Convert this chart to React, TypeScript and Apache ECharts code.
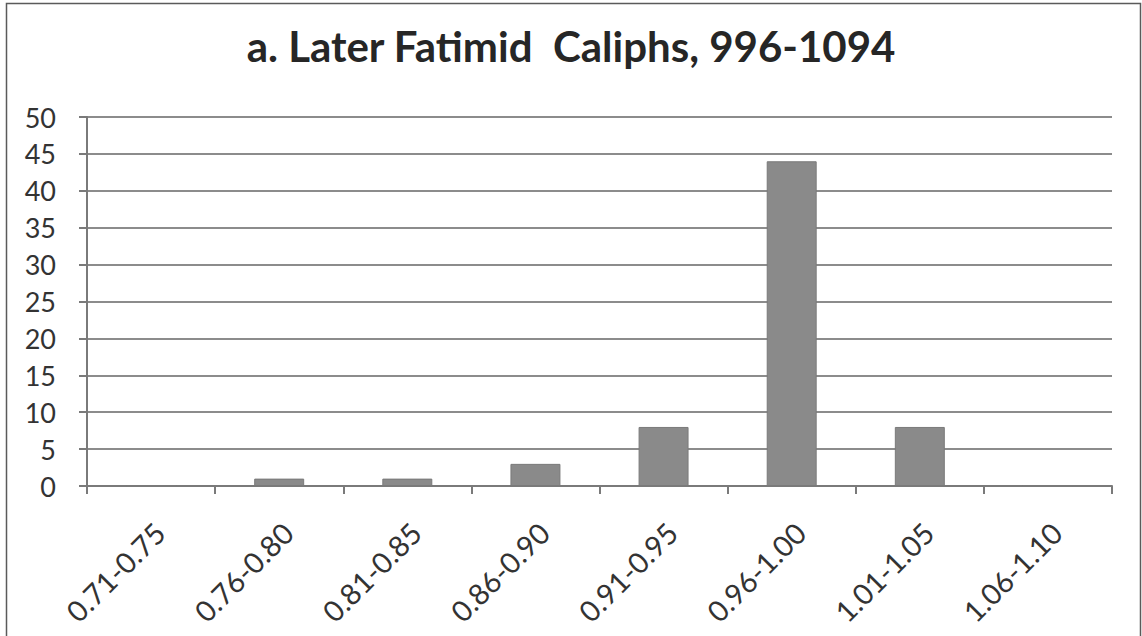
import React, { useEffect, useRef } from "react";
import * as echarts from "echarts";

const title = "a. Later Fatimid  Caliphs, 996-1094";
const categories = ["0.71-0.75", "0.76-0.80", "0.81-0.85", "0.86-0.90", "0.91-0.95", "0.96-1.00", "1.01-1.05", "1.06-1.10"];
const counts = [0, 1, 1, 3, 8, 44, 8, 0];

export default function App() {
  const ref = useRef<HTMLDivElement>(null);
  useEffect(() => {
    const chart = echarts.init(ref.current!, null, { renderer: "svg" });
    const font = "Lato, 'Open Sans', sans-serif";
    chart.setOption({
      animation: false,
      backgroundColor: "#fff",
      title: {
        text: title,
        left: "center",
        top: 20,
        textStyle: { fontFamily: font, fontSize: 42, fontWeight: "bold", color: "#262626" },
      },
      graphic: [
        {
          type: "rect",
          shape: { x: 6.5, y: 3.5, width: 1134, height: 640 },
          style: { fill: "none", stroke: "#5a5a5a", lineWidth: 1.5 },
          silent: true,
        },
      ],
      grid: { left: 87, right: 30, top: 117, bottom: 150, containLabel: false },
      xAxis: {
        type: "category",
        data: categories,
        axisLine: { lineStyle: { color: "#7a7a7a", width: 2 } },
        axisTick: { show: true, length: 8, alignWithLabel: false, lineStyle: { color: "#7a7a7a", width: 2 } },
        axisLabel: { rotate: 45, margin: 50, padding: [0, -12, 0, 0], fontFamily: font, fontSize: 29, color: "#333", interval: 0 },
      },
      yAxis: {
        type: "value",
        min: 0,
        max: 50,
        interval: 5,
        axisLine: { show: true, lineStyle: { color: "#7a7a7a", width: 2 } },
        axisTick: { show: true, length: 8, inside: false, lineStyle: { color: "#7a7a7a", width: 2 } },
        splitLine: { lineStyle: { color: "#8c8c8c", width: 2 } },
        axisLabel: { margin: 31, fontFamily: font, fontSize: 27, color: "#333" },
      },
      series: [
        {
          type: "bar",
          data: counts,
          barWidth: "39%",
          itemStyle: { color: "#8a8a8a", borderColor: "#7a7a7a", borderWidth: 1 },
        },
      ],
    });
    return () => chart.dispose();
  }, []);
  return <div ref={ref} style={{ position: "absolute", left: 0, top: 0, width: 1142, height: 636 }} />;
}
